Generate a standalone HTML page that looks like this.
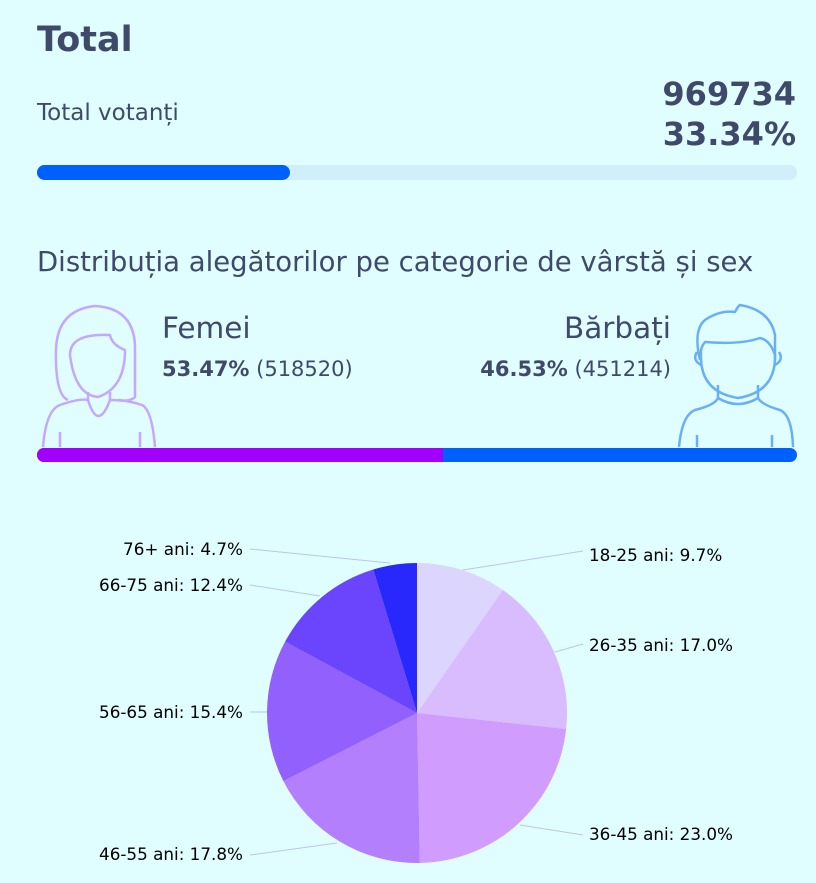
<!DOCTYPE html>
<html><head><meta charset="utf-8"><style>
*{margin:0;padding:0;box-sizing:border-box}
body{width:816px;height:883px;background:#e0fdff;font-family:"DejaVu Sans","Liberation Sans",sans-serif;color:#3f4a6b;position:relative;overflow:hidden}
.a{position:absolute;white-space:nowrap}
</style></head><body>
<div class="a" style="left:37px;top:20px;font-size:35px;font-weight:bold;">Total</div>
<div class="a" style="left:37px;top:100px;font-size:23px;">Total votanți</div>
<div class="a" style="right:20px;top:74px;font-size:32px;font-weight:bold;text-align:right;line-height:40px">969734<br>33.34%</div>
<div class="a" style="left:37px;top:165px;width:760px;height:15px;border-radius:8px;background:#d0effb"></div>
<div class="a" style="left:37px;top:165px;width:253px;height:15px;border-radius:8px;background:#0060ff"></div>
<div class="a" style="left:37px;top:246px;font-size:27.5px;">Distribuția alegătorilor pe categorie de vârstă și sex</div>
<div class="a" style="left:37px;top:448px;width:760px;height:14px;border-radius:7px;background:#0060ff"></div>
<div class="a" style="left:37px;top:448px;width:406px;height:14px;border-radius:7px 0 0 7px;background:#a100ff"></div>
<svg class="a" style="left:0;top:0" width="816" height="883">
<g fill="none" stroke="#c3a8fb" stroke-width="2.5" stroke-linejoin="round">
<path d="M43 447 Q46 410 60 405 Q80 398 88 400 Q98 432 110 400 Q128 400 142 405 Q152 410 155 447"/>
<path d="M60 447 V432 M140 447 V432"/>
<path d="M68 400 Q55 395 56 350 Q57 310 95 306 Q133 308 135 345 V397 Q130 402 118 400"/>
<path d="M70 355 Q70 333 110 335 Q112 345 125 350 Q125 388 98 397 Q75 395 70 355Z"/>
<path d="M88 392 V400 M110 392 V400"/>
</g>
<g fill="none" stroke="#68b0f5" stroke-width="2.5" stroke-linejoin="round">
<path d="M679 447 Q682 415 695 410 Q715 405 718 398 Q738 410 758 398 Q762 405 780 410 Q792 415 793 447"/>
<path d="M697 447 V435 M772 447 V435"/>
<path d="M718 398 V385 M758 398 V385"/>
<path d="M701 355 Q700 392 738 398 Q776 392 775 355 Q770 340 760 338 Q740 345 705 342 Q700 348 701 355Z"/>
<path d="M701 365 Q692 360 697 352 M775 365 Q784 360 779 352"/>
<path d="M700 360 Q693 330 705 320 Q720 310 735 312 Q738 306 740 305 Q770 310 775 335 V360"/>
</g>
<g stroke="#b9c7e6" stroke-width="1" fill="none">
<path d="M463 570 L583 551"/><path d="M555 652 L583 644"/><path d="M520 825 L583 835"/>
<path d="M337 843 L250 855"/><path d="M267 712 L250 712"/><path d="M320 596 L250 585"/><path d="M390 563 L250 549"/>
</g>
<g>
<path d="M417 713 L417 563 A150 150 0 0 1 502.9 590 Z" fill="#dcd6fe"/>
<path d="M417 713 L502.9 590 A150 150 0 0 1 566.1 729 Z" fill="#d8bcfd"/>
<path d="M417 713 L566.1 729 A150 150 0 0 1 419.8 863 Z" fill="#d09cfd"/>
<path d="M417 713 L419.8 863 A150 150 0 0 1 283.4 781.1 Z" fill="#b37ffd"/>
<path d="M417 713 L283.4 781.1 A150 150 0 0 1 285.1 641.6 Z" fill="#9160fd"/>
<path d="M417 713 L285.1 641.6 A150 150 0 0 1 373.3 569.5 Z" fill="#6a45fd"/>
<path d="M417 713 L373.3 569.5 A150 150 0 0 1 417 563 Z" fill="#2828fd"/>
</g>
<g font-family="DejaVu Sans, Liberation Sans, sans-serif" font-size="16.8" fill="#000">
<text x="589" y="561">18-25 ani: 9.7%</text>
<text x="589" y="651">26-35 ani: 17.0%</text>
<text x="589" y="840">36-45 ani: 23.0%</text>
<text x="243" y="860" text-anchor="end">46-55 ani: 17.8%</text>
<text x="243" y="718" text-anchor="end">56-65 ani: 15.4%</text>
<text x="243" y="591" text-anchor="end">66-75 ani: 12.4%</text>
<text x="243" y="555" text-anchor="end">76+ ani: 4.7%</text>
</g>
</svg>
<div class="a" style="left:162px;top:311px;font-size:29.5px;">Femei</div>
<div class="a" style="left:162px;top:357px;font-size:21px;"><b>53.47%</b> (518520)</div>
<div class="a" style="right:145px;top:311px;font-size:29.5px;">Bărbați</div>
<div class="a" style="right:145px;top:357px;font-size:21px;"><b>46.53%</b> (451214)</div>
</body></html>
